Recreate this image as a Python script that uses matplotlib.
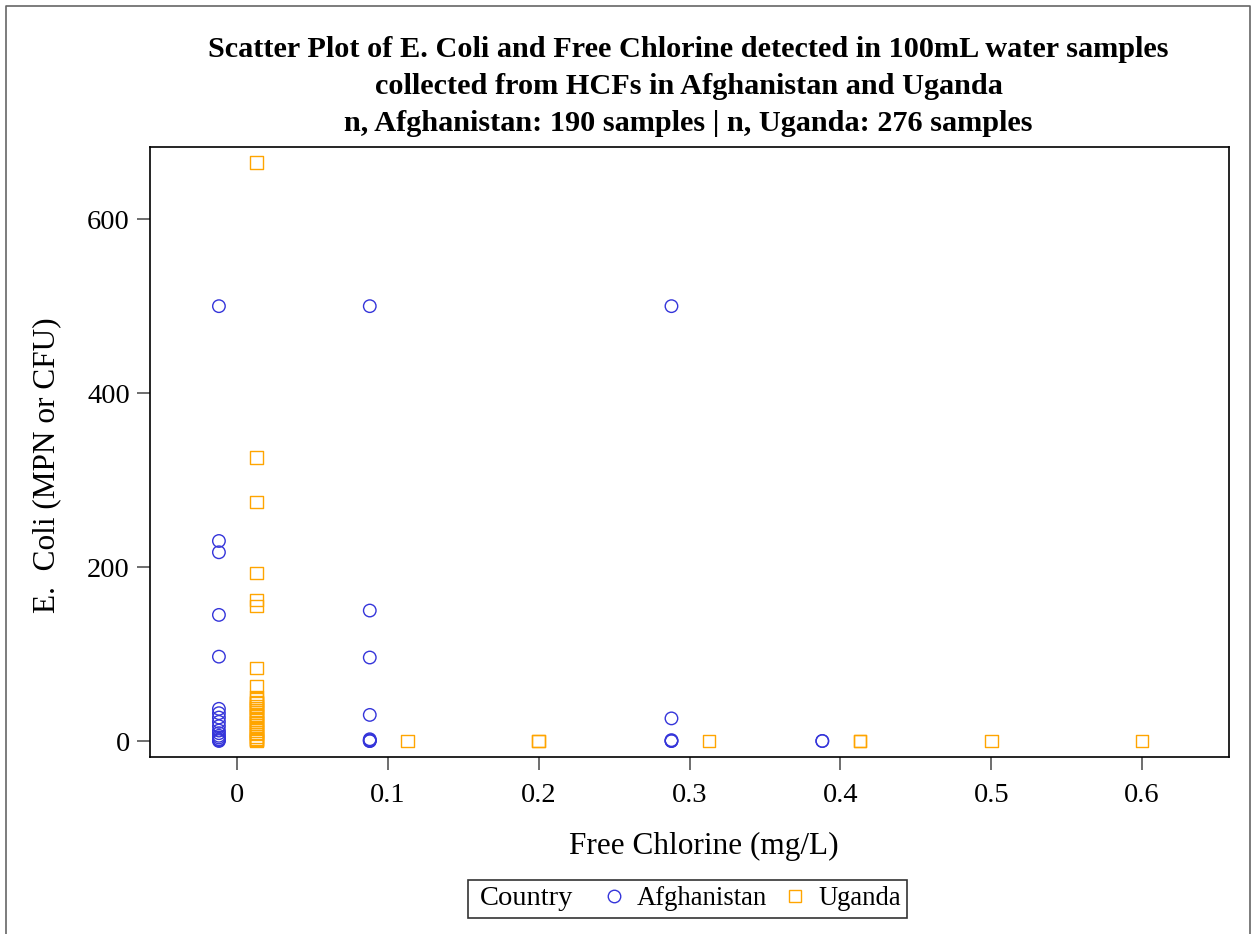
import numpy as np
import matplotlib.pyplot as plt
from matplotlib.lines import Line2D
from matplotlib.offsetbox import HPacker, DrawingArea

plt.rcParams['font.family'] = ['Liberation Serif', 'DejaVu Serif']

# Afghanistan samples (free chlorine mg/L, E. coli count), jittered at each chlorine level
afg_x = [-0.012] * 17 + [0.088] * 8 + [0.288] * 5 + [0.388] * 2
afg_y = [500, 230, 217, 145, 97, 37, 32, 27, 22, 17, 12, 9, 6, 4, 2, 1, 0,
         500, 150, 96, 30, 2, 1, 0, 0,
         500, 26, 1, 0, 0,
         0, 0]

# Uganda samples
uga_cluster = [665, 326, 275, 193, 162, 155, 84, 63, 50, 48, 45, 43, 40, 38, 35,
               33, 30, 28, 25, 22, 20, 18, 15, 12, 10, 8, 5, 3, 2, 1, 0]
uga_x = [0.013] * len(uga_cluster) + [0.113, 0.2, 0.2, 0.313, 0.413, 0.413, 0.5, 0.6]
uga_y = uga_cluster + [0, 0, 0, 0, 0, 0, 0, 0]

blue = '#3535DA'
orange = '#FFA500'

fig = plt.figure(figsize=(12.51, 9.34), dpi=100)
ax = fig.add_axes([0.1199, 0.1895, 0.8625, 0.6531])

ax.scatter(afg_x, afg_y, s=9 ** 2, marker='o', facecolors='none',
           edgecolors=blue, linewidths=1.0, zorder=3)
ax.scatter(uga_x, uga_y, s=9 ** 2, marker='s', facecolors='none',
           edgecolors=orange, linewidths=1.0, zorder=3)

ax.set_xlim(-0.0577, 0.6576)
ax.set_ylim(-18.4, 683)
ax.set_xticks([0, 0.1, 0.2, 0.3, 0.4, 0.5, 0.6])
ax.set_xticklabels(['0', '0.1', '0.2', '0.3', '0.4', '0.5', '0.6'])
ax.set_yticks([0, 200, 400, 600])
ax.tick_params(labelsize=20.5, length=9.5, width=1.2, color='#555555', pad=5)
ax.tick_params(axis='x', pad=9)
for sp in ax.spines.values():
    sp.set_linewidth(1.2)

ax.set_xlabel('Free Chlorine (mg/L)', fontsize=22.5)
ax.set_ylabel('E.  Coli (MPN or CFU)', fontsize=22.5)
ax.xaxis.set_label_coords(0.513, -0.146)
ax.xaxis.label.set_va('center')
ax.yaxis.set_label_coords(-0.0955, 0.479)
ax.yaxis.label.set_va('center')

title_lines = ['Scatter Plot of E. Coli and Free Chlorine detected in 100mL water samples',
               'collected from HCFs in Afghanistan and Uganda',
               'n, Afghanistan: 190 samples | n, Uganda: 276 samples']
for i, line in enumerate(title_lines):
    fig.text(0.5505, 0.9475 - i * 0.0396, line, ha='center', va='center',
             fontsize=21.8, fontweight='bold')

handles = [Line2D([], [], marker='o', linestyle='none', markerfacecolor='none',
                  markeredgecolor=blue, markersize=9),
           Line2D([], [], marker='s', linestyle='none', markerfacecolor='none',
                  markeredgecolor=orange, markersize=9)]
leg = fig.legend(handles, ['Afghanistan', 'Uganda'], ncol=2, title='Country',
                 title_fontsize=20.5, loc='center', bbox_to_anchor=(0.5495, 0.0375),
                 fontsize=19.2, frameon=True, fancybox=False, edgecolor='black',
                 handlelength=0.6, handletextpad=0.55, columnspacing=0.75,
                 borderpad=0.25)
leg.get_frame().set_linewidth(1.2)

# put the legend title to the left of the entries, on the same row
old_box = leg._legend_box
title_row = HPacker(pad=0, sep=0, align='center',
                    children=[DrawingArea(4, 1), leg._legend_title_box])
new_box = HPacker(pad=old_box.pad, sep=24, align='center',
                  children=[title_row, leg._legend_handle_box])
new_box.set_figure(fig)
new_box.axes = old_box.axes
new_box.set_offset(leg._findoffset)
leg._legend_box = new_box

# border around the whole figure (left, top, right)
fig.add_artist(Line2D([0.005, 0.005, 0.9992, 0.9992], [0.0, 0.9936, 0.9936, 0.0],
                      color='#666666', linewidth=1.2, transform=fig.transFigure))

fig.savefig('out.png', dpi=100)
